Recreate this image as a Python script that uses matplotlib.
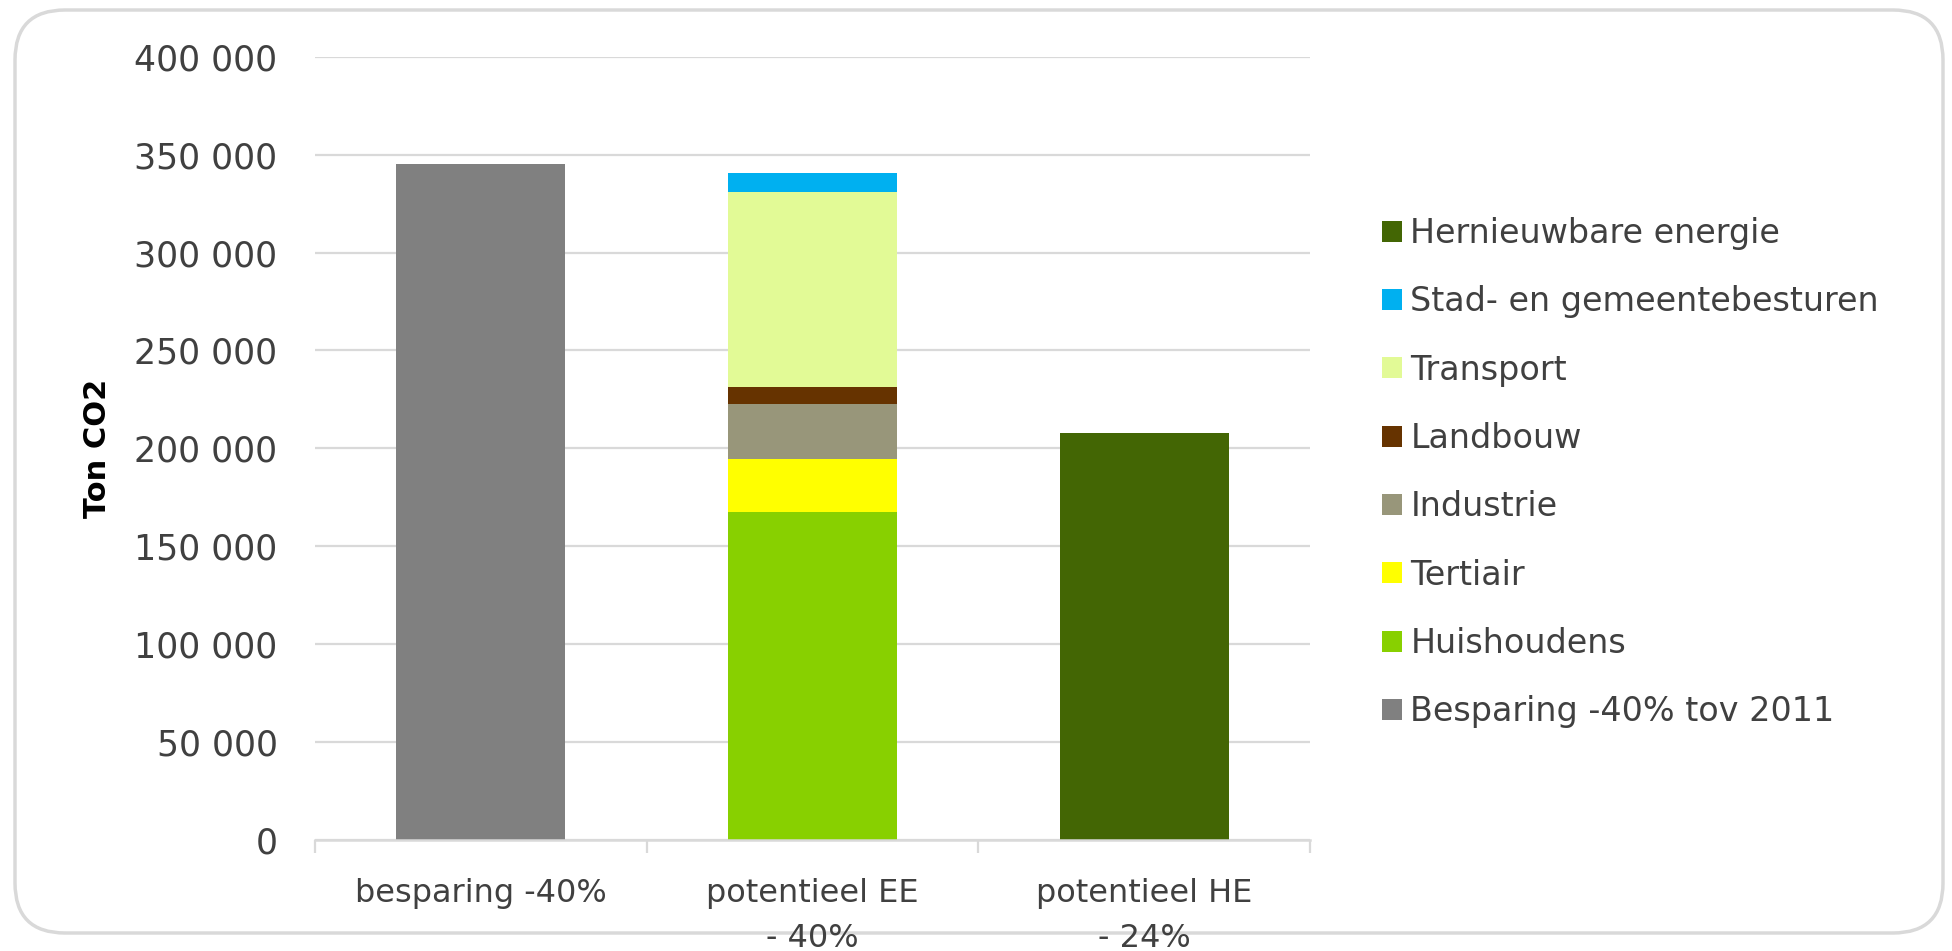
import numpy as np
import matplotlib
matplotlib.use("Agg")
import matplotlib.pyplot as plt
from matplotlib.patches import FancyBboxPatch, Patch

# data
categories = ["besparing -40%", "potentieel EE\n- 40%", "potentieel HE\n- 24%"]
series = ["Besparing -40% tov 2011", "Huishoudens", "Tertiair", "Industrie",
          "Landbouw", "Transport", "Stad- en gemeentebesturen", "Hernieuwbare energie"]
besparing = [345000, 0, 0]
huishoudens = [0, 167400, 0]
tertiair = [0, 27200, 0]
industrie = [0, 28100, 0]
landbouw = [0, 8500, 0]
transport = [0, 99600, 0]
stad = [0, 9700, 0]
hernieuwbaar = [0, 0, 207900]
colors = ["#808080", "#88D000", "#FFFF00", "#98967A",
          "#663300", "#E2FA96", "#00B0F0", "#436604"]
yticks = np.arange(0, 400001, 50000)

values = [besparing, huishoudens, tertiair, industrie, landbouw, transport, stad, hernieuwbaar]

fig = plt.figure(figsize=(19.52, 9.51), dpi=100)
ax = fig.add_axes([0.1614, 0.1167, 0.5097, 0.8236])

x = np.arange(len(categories))
bottom = np.zeros(len(categories))
for name, vals, col in zip(series, values, colors):
    vals = np.array(vals, dtype=float)
    ax.bar(x, vals, 0.51, bottom=bottom, color=col, label=name, zorder=3)
    bottom += vals

grid = "#d9d9d9"
ax.set_xlim(-0.5, 2.5)
ax.set_ylim(0, 400000)
ax.set_yticks(yticks)
ax.set_yticklabels([f"{int(v):,}".replace(",", " ") for v in yticks])
ax.yaxis.grid(True, color=grid, lw=1.6, zorder=0)
ax.set_axisbelow(True)
for s in ["top", "right", "left"]:
    ax.spines[s].set_visible(False)
ax.spines["bottom"].set_color(grid)
ax.spines["bottom"].set_linewidth(1.8)
ax.spines["bottom"].set_zorder(4)

ax.set_xticks(x)
ax.set_xticklabels(categories, fontsize=23, color="#404040", linespacing=1.6)
ax.set_xticks([-0.5, 0.5, 1.5, 2.5], minor=True)
ax.tick_params(axis="x", which="major", length=0, pad=27)
ax.tick_params(axis="x", which="minor", length=9.5, width=1.6, color=grid)
ax.tick_params(axis="y", length=0, pad=27, labelsize=25, labelcolor="#404040")

ax.set_ylabel("Ton CO2", fontsize=22, fontweight="bold", labelpad=16)

handles = [Patch(facecolor=c, label=n) for n, c in zip(series, colors)][::-1]
fig.legend(handles=handles, loc="center left", bbox_to_anchor=(0.708, 0.503),
           frameon=False, fontsize=24, handlelength=0.6, handleheight=0.6,
           handletextpad=0.25, labelspacing=1.06, borderpad=0, borderaxespad=0,
           labelcolor="#404040")

# rounded chart border
box = FancyBboxPatch((0.15, 0.18), 19.28, 9.23, boxstyle="round,pad=0,rounding_size=0.5",
                     transform=fig.dpi_scale_trans, facecolor="none",
                     edgecolor="#d9d9d9", lw=2.5, zorder=-1)
fig.add_artist(box)

fig.savefig("out.png", dpi=100)
